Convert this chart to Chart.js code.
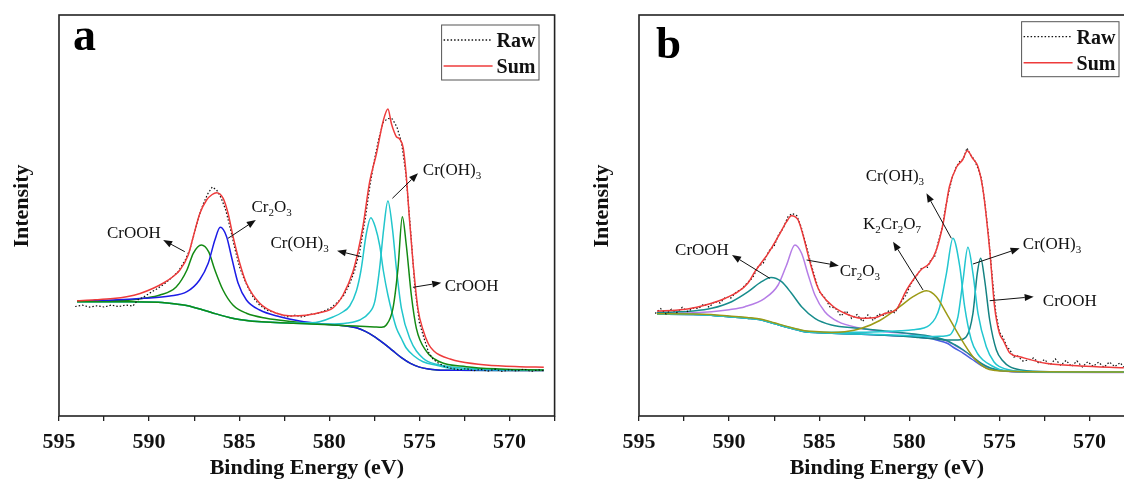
<!DOCTYPE html>
<html>
<head>
<meta charset="utf-8">
<script src="https://cdn.jsdelivr.net/npm/chart.js@4.4.1/dist/chart.umd.min.js"></script>
<style>
  html, body { margin: 0; padding: 0; background: #fff; }
  body { width: 1124px; height: 479px; overflow: hidden; position: relative; }
  canvas { position: absolute; top: 0; }
  #graficoA { left: 0; }
  #graficoB { left: 580px; }
</style>
</head>
<body>
<canvas id="graficoA" width="580" height="479"></canvas>
<canvas id="graficoB" width="580" height="479"></canvas>
<script>
// ---- panel a: Cr 2p, fitted components (binding energy in eV, intensity in a.u.) ----
const eVerdeA1 = [594, 592, 591, 590.3, 589.4, 588.5, 587.9, 587.55, 587.1, 586.7, 586.35, 585.9, 585.35, 584.6, 583.5, 582, 581, 580, 579, 578.5, 578, 577.5, 577, 576.5, 576, 575.5, 575, 574.5, 574, 573, 568.1];
const iVerdeA1 = [114.8, 115.3, 116, 117.7, 121, 129, 146, 162.7, 171, 164.3, 146, 126, 111, 102.7, 97.7, 94.3, 92.5, 91.4, 89.8, 88.2, 84.6, 79.4, 72.8, 65.6, 58.3, 52.6, 48.9, 46.9, 46.1, 45.7, 45.5];

const eAzulA = [594, 592, 590.3, 588.85, 587.9, 587.2, 586.72, 586.35, 586.05, 585.7, 585.43, 585.06, 584.6, 583.86, 582.75, 581.64, 580.5, 579.5, 579, 578.5, 578, 577.5, 577, 576.5, 576, 575.5, 575, 574.5, 574, 573, 568.1];
const iAzulA = [115, 116, 117.7, 120, 124.3, 136, 152.7, 176, 188.7, 179.3, 159.3, 132.7, 116, 106, 99.3, 95, 92.3, 90.8, 89.8, 88.2, 84.6, 79.4, 72.8, 65.6, 58.3, 52.6, 48.9, 46.9, 46.1, 45.7, 45.5];

const eCianoA1 = [594, 591, 589.5, 589, 588.5, 588, 587.5, 587, 586.5, 586, 585.5, 585, 584.5, 584, 583, 582, 581, 580.5, 579.8, 579.3, 578.87, 578.5, 578.25, 577.94, 577.7, 577.45, 577.2, 577, 576.75, 576.5, 576.28, 576, 575.73, 575.3, 574.8, 574, 573.33, 572, 570, 568.1];
const iCianoA1 = [114.3, 114.3, 113.7, 113, 112, 110.7, 108.6, 106, 103.3, 100.6, 98.3, 96.6, 95.4, 94.6, 93.6, 93, 93.2, 94.5, 99, 103.5, 110, 125, 145, 183, 198.3, 189, 170, 145, 121, 102, 88, 77.5, 68, 60, 54.3, 50.5, 47.7, 46.5, 46, 45.8];

const eCianoA2 = [594, 591, 589.5, 589, 588.5, 588, 587.5, 587, 586.5, 586, 585.5, 585, 584.5, 584, 583, 582, 581, 580, 579, 578.31, 577.8, 577.48, 577.21, 576.98, 576.75, 576.5, 576.28, 576, 575.54, 574.8, 574, 573.33, 571.5, 568.1];
const iCianoA2 = [114.3, 114.3, 113.7, 113, 112, 110.7, 108.6, 106, 103.3, 100.6, 98.3, 96.5, 95.3, 94.5, 93.4, 92.7, 92.2, 92, 93, 96, 103, 114.3, 147.7, 187.7, 215, 187.7, 147.7, 107.7, 77.7, 57.7, 51.5, 49.3, 47, 46];

const eVerdeA2 = [594, 591, 589.5, 589, 588.5, 588, 587.5, 587, 586.5, 586, 585.5, 585, 584.5, 584, 583, 582, 581, 580, 579, 578, 577.5, 577.1, 576.84, 576.47, 576.19, 575.95, 575.73, 575.45, 575.17, 574.6, 573.88, 572.4, 570.55, 568.1];
const iVerdeA2 = [114.3, 114.3, 113.7, 113, 112, 110.7, 108.6, 106, 103.3, 100.6, 98.3, 96.5, 95.3, 94.5, 93.4, 92.7, 92, 91.2, 90.3, 89.5, 89, 88.7, 91, 107.7, 147.7, 199.3, 171, 121, 87.7, 64.3, 54.3, 49.3, 47, 46];

const eSomaA = [594, 593, 592, 591.25, 590.5, 589.77, 589.2, 588.7, 588.29, 587.83,
  587.55, 587.18, 586.81, 586.5, 586.26, 585.89, 585.62, 585.34, 584.97, 584.6,
  583.86, 582.93, 582.1, 581.3, 580.5, 579.8, 579.24, 578.69, 578.4, 578.13,
  577.76, 577.39, 577.02, 576.75, 576.55, 576.4, 576.28, 576.1, 575.9, 575.73,
  575.55, 575.36, 575.08, 574.8, 574.5, 574.2, 573.88, 573.3, 572.77, 571.3,
  569.45, 568.1];
const iSomaA = [115.3, 116.2, 117.5, 119.3, 122.5, 127.7, 133, 139, 146, 161,
  179.3, 202.7, 216, 221.5, 223.3, 217.7, 202.7, 179.3, 152.7, 132.7,
  112.7, 102.7, 100, 100.8, 103.5, 108, 121, 144.3, 165, 190,
  234.3, 262, 294.3, 307, 292, 284, 279.3, 277, 268, 240,
  196, 154.3, 107, 86, 72, 65, 61, 57, 54.5, 51,
  49.3, 48.8];

const eBrutoA = [594.1, 593.7, 593.3, 592.9, 592.5, 592.1, 591.7, 591.3, 590.9, 590.6,
  590.3, 590, 589.6, 589.2, 588.8, 588.4, 588, 587.75, 587.5, 587.25,
  587, 586.75, 586.5, 586.25, 586, 585.75, 585.5, 585.25, 585, 584.75,
  584.5, 584.2, 583.9, 583.5, 583.1, 582.7, 582.3, 581.9, 581.5, 581.1,
  580.7, 580.3, 579.9, 579.5, 579.2, 578.9, 578.6, 578.3, 578, 577.75,
  577.5, 577.25, 577, 576.75, 576.5, 576.25, 576, 575.75, 575.5, 575.25,
  575, 574.75, 574.5, 574.25, 574, 573.6, 573.2, 572.8, 572.4, 572,
  571.6, 571.2, 570.8, 570.4, 570, 569.6, 569.2, 568.8, 568.4, 568.1];
const iBrutoA = [109.5, 110.8, 108.9, 110.2, 109.0, 110.9, 109.4, 111.0, 110.0, 116.5,
  119.0, 122.5, 126.8, 131.5, 137.5, 144, 156, 166, 182, 199,
  212, 222, 229, 226, 218, 206, 188, 168, 150, 138,
  128, 118, 111.5, 106, 103.8, 101.5, 99.2, 100.8, 98.9, 101.6,
  102.4, 104.9, 108.4, 114.5, 120.5, 131, 145, 166, 198, 230,
  256, 278, 294, 297.5, 297, 289, 274, 242, 188, 128,
  93, 78, 64, 57, 53.5, 49.5, 47.5, 46.2, 47.4, 45.2,
  46.6, 44.8, 46.9, 44.5, 46.3, 45.1, 46.8, 44.6, 46.2, 45.3];

// ---- panel b ----
const eFundoB = [594, 592, 591, 590, 589, 588.2, 587.5, 586.9, 586.3, 585.8, 585, 584.3, 583, 581.7, 580.5, 579.5, 578.9, 578.5, 577.9, 577.5, 577, 576.5, 576, 575.5, 575.2, 574.5, 573.9, 572, 568.1];
const iFundoB = [101.7, 101.5, 100.8, 99.3, 97.8, 96, 92.5, 89.3, 86.5, 84.3, 83.3, 82.7, 82, 81, 80, 78.8, 77.7, 76, 72.7, 68, 62.7, 56.5, 50.5, 47, 46, 44.8, 44.3, 43.8, 43.7];

const eTealB1 = [594, 593, 592, 590.97, 589.86, 588.94, 588.2, 587.67, 587.09, 586.54, 585.98, 585.24, 584.32, 582.84, 581.36, 580, 579, 578, 577.5, 577, 576.5, 576, 575.5, 575, 574.5, 573.5, 568.1];
const iTealB1 = [103.5, 104, 105, 107.7, 114.3, 124.3, 134.3, 138.5, 134.3, 122.7, 109.3, 97.7, 91, 87.7, 85, 82.5, 80.3, 76, 71.5, 66, 59.5, 52.5, 48, 45.8, 44.8, 44.2, 43.7];

const eVioletaB = [594, 592, 590.97, 590, 589.12, 588.02, 587.28, 586.81, 586.35, 585.98, 585.61, 585.24, 584.69, 583.95, 582.84, 581.36, 580, 579, 578, 577.5, 577, 576.5, 576, 575.5, 575, 574.5, 573.5, 568.1];
const iVioletaB = [102.7, 103.3, 104.3, 106.3, 109.3, 117.7, 131, 151, 171, 162.7, 141, 121, 104.3, 94.3, 88.3, 84.3, 82.2, 80, 75.5, 71, 65.5, 59, 52, 47.5, 45.4, 44.4, 43.8, 43.4];

const eOlivaB = [594, 592, 591, 590, 589, 588.2, 587.5, 586.9, 586.3, 585.8, 585, 584.32, 583.58, 582.65, 581.64, 580.53, 579.79, 579.05, 578.5, 577.94, 577.2, 576.47, 575.73, 575.2, 574.5, 573.5, 568.1];
const iOlivaB = [102.3, 102.1, 101.5, 100, 98.5, 96.8, 93.3, 90.1, 87.3, 85.2, 84.2, 83.6, 84.3, 87.7, 95.5, 109.3, 119.3, 125.3, 119.3, 102.7, 79.3, 59.3, 47.7, 45.6, 44.8, 44.3, 44];

const eCianoB1 = [594, 592, 591, 590, 589, 588.2, 587.5, 586.9, 586.3, 585.8, 585, 584.3, 583, 581.64, 580.5, 579.79, 579.2, 578.87, 578.55, 578.31, 577.94, 577.58, 577.2, 576.93, 576.56, 576.2, 575.91, 575.4, 574.99, 574.3, 573.5, 568.1];
const iCianoB1 = [101.9, 101.7, 101, 99.5, 98, 96.3, 92.8, 89.7, 87, 85, 84.2, 83.8, 83.8, 84.3, 85.2, 86.2, 88, 91, 98, 109.3, 142.7, 177.7, 149.3, 109.3, 76, 62, 56, 50, 46.5, 45, 44.3, 44];

const eCianoB2 = [594, 592, 591, 590, 589, 588.2, 587.5, 586.9, 586.3, 585.8, 585, 584.3, 583, 581.7, 580.5, 579.5, 578.87, 578.2, 577.76, 577.5, 577.3, 577.02, 576.75, 576.47, 576.19, 575.73, 575.3, 574.99, 574.3, 573.5, 568.1];
const iCianoB2 = [101.7, 101.5, 100.8, 99.3, 97.8, 96, 92.5, 89.3, 86.5, 84.3, 83.3, 82.7, 82, 81.5, 80.8, 80, 79.3, 79.8, 81, 88, 99.3, 136, 168.7, 142.7, 102.7, 69.3, 54, 49.3, 45.5, 44.5, 44];

const eTealB2 = [594, 592, 591, 590, 589, 588.2, 587.5, 586.9, 586.3, 585.8, 585, 584.3, 583, 581.7, 580.5, 579.5, 578.5, 577.94, 577.3, 576.84, 576.47, 576.23, 576.04, 575.82, 575.54, 575.17, 574.8, 574.43, 573.8, 572, 568.1];
const iTealB2 = [101.7, 101.5, 100.8, 99.3, 97.8, 96, 92.5, 89.3, 86.5, 84.3, 83.3, 82.7, 82, 81, 80, 78.6, 77, 76, 76, 79.3, 102.7, 142.7, 157.7, 136, 96, 66, 55, 49.3, 46, 44.3, 44];

const eSomaB = [594, 592.82, 591.8, 590.97, 590.2, 589.5, 588.95, 588.57, 588.2, 587.83,
  587.28, 586.81, 586.54, 586.17, 585.9, 585.52, 585.06, 584.32, 583.58, 582.65,
  581.8, 581.34, 580.75, 580.15, 579.79, 579.36, 578.87, 578.5, 578.13, 577.78,
  577.38, 577.05, 576.78, 576.5, 576.19, 575.91, 575.54, 575.27, 575.0, 574.8,
  574.41, 573.88, 572.43, 570.5, 568.1];
const iSomaB = [105, 106, 108.8, 112.7, 117.8, 124.3, 133, 144.3, 153.5, 162.7,
  179.3, 194.3, 200.3, 196, 181, 154.3, 127.7, 111, 102.7, 97.7,
  98.8, 102.7, 106, 126, 136, 146, 153, 166, 192, 229,
  249, 256, 265.3, 258, 249.3, 226, 166, 109.3, 82.7, 76,
  62.7, 59.3, 52.7, 50, 48.3];

const eBrutoB = [594.1, 593.8, 593.5, 593.2, 592.9, 592.6, 592.3, 592.0, 591.7, 591.4,
  591.1, 590.8, 590.5, 590.2, 589.9, 589.6, 589.3, 589.0, 588.7, 588.4,
  588.1, 587.8, 587.5, 587.25, 587.0, 586.75, 586.5, 586.25, 586.0, 585.75,
  585.5, 585.25, 585.0, 584.7, 584.4, 584.1, 583.8, 583.5, 583.2, 582.9,
  582.6, 582.3, 582.0, 581.7, 581.4, 581.1, 580.8, 580.5, 580.2, 579.9,
  579.6, 579.3, 579.0, 578.8, 578.6, 578.4, 578.2, 578.0, 577.8, 577.6,
  577.4, 577.2, 577.0, 576.8, 576.6, 576.4, 576.2, 576.0, 575.8, 575.6,
  575.4, 575.2, 575.0, 574.8, 574.6, 574.4, 574.2, 574.0, 573.7, 573.4,
  573.1, 572.8, 572.5, 572.2, 571.9, 571.6, 571.3, 571.0, 570.7, 570.4,
  570.1, 569.8, 569.5, 569.2, 568.9, 568.6, 568.3, 568.1];
const iBrutoB = [102.5, 107.5, 102.0, 106.8, 103.4, 108.6, 104.5, 108.0, 107.6, 112.0,
  108.8, 114.6, 113.0, 119.0, 118.0, 124.0, 127.0, 133.0, 138.0, 149.0,
  153, 165, 170, 181.5, 187.5, 199, 202.5, 200.5, 189, 172.5,
  155, 139.5, 124.5, 118.5, 109, 108, 100, 105, 97.5, 101.5,
  94.5, 101, 95.5, 102, 100.5, 106, 103, 113, 120.5, 132.5,
  140, 148.5, 148.5, 156.5, 159, 173.5, 186, 207.5, 225, 239.5,
  249, 254.5, 257, 268, 261, 256.5, 248, 237.5, 212, 179.5,
  139, 103.5, 84, 78.5, 70, 65.5, 59, 60, 55, 56,
  58, 52.5, 56.5, 51, 57, 50.8, 55.6, 49.5, 55, 49,
  54.2, 49.6, 53.8, 48.7, 54, 49.4, 53.3, 49];

// labels with arrows: text position and arrow tail/head, all in data units
const rotulosA = [
  { texto: 'CrOOH', e: 592.34, i: 178, de: [588.02, 164.3], para: [589.22, 176] },
  { texto: 'Cr_2O_3', e: 584.32, i: 204, de: [585.62, 177.7], para: [584.08, 196] },
  { texto: 'Cr(OH)_3', e: 583.27, i: 168, de: [578.22, 159.3], para: [579.57, 165.3] },
  { texto: 'Cr(OH)_3', e: 574.81, i: 241, de: [576.5, 217.7], para: [575.08, 242.7] },
  { texto: 'CrOOH', e: 573.6, i: 125, de: [575.36, 128.7], para: [573.79, 133.3] }
];
const rotulosB = [
  { texto: 'CrOOH', e: 593.0, i: 161, de: [587.74, 137.7], para: [589.84, 161] },
  { texto: 'Cr_2O_3', e: 583.86, i: 140, de: [585.7, 156], para: [583.91, 150.3] },
  { texto: 'K_2Cr_2O_7', e: 582.57, i: 187, de: [579.24, 126], para: [580.9, 174.3] },
  { texto: 'Cr(OH)_3', e: 582.42, i: 235, de: [577.67, 177.7], para: [579.05, 222.7] },
  { texto: 'Cr(OH)_3', e: 573.7, i: 167, de: [576.47, 152], para: [573.88, 167.7] },
  { texto: 'CrOOH', e: 572.59, i: 110, de: [575.54, 115.3], para: [573.1, 119.3] }
];

const fonte = '"Liberation Serif", "Times New Roman", serif';
const tracoBruto = [1.5, 2];

function serie(rotulo, es, is, cor, ordem, bruto) {
  return {
    label: rotulo,
    data: es.map((e, k) => ({ x: e, y: is[k] })),
    borderColor: cor,
    borderWidth: bruto ? 1.2 : 1.5,
    borderDash: bruto ? tracoBruto : [],
    pointRadius: 0,
    fill: false,
    tension: 0,
    cubicInterpolationMode: bruto ? 'default' : 'monotone',
    order: ordem
  };
}

// text where '_' puts the next character as a subscript
function desenharTexto(ctx, texto, x, y) {
  let cx = x;
  for (let k = 0; k < texto.length; k++) {
    let ch = texto[k];
    let sub = false;
    if (ch === '_') { sub = true; ch = texto[++k]; }
    ctx.font = (sub ? '11px ' : '17px ') + fonte;
    ctx.fillText(ch, cx, sub ? y + 4 : y);
    cx += ctx.measureText(ch).width;
  }
}

function desenharSeta(ctx, x1, y1, x2, y2) {
  const ang = Math.atan2(y2 - y1, x2 - x1);
  const tam = 9, larg = 3.5;
  const bx = x2 - tam * Math.cos(ang), by = y2 - tam * Math.sin(ang);
  ctx.beginPath();
  ctx.moveTo(x1, y1);
  ctx.lineTo(bx, by);
  ctx.stroke();
  ctx.beginPath();
  ctx.moveTo(x2, y2);
  ctx.lineTo(bx + larg * Math.sin(ang), by - larg * Math.cos(ang));
  ctx.lineTo(bx - larg * Math.sin(ang), by + larg * Math.cos(ang));
  ctx.closePath();
  ctx.fill();
}

function moldura(painel) {
  return {
    id: 'moldura',
    afterDraw(chart) {
      const ctx = chart.ctx;
      const a = chart.chartArea;
      const sx = chart.scales.x, sy = chart.scales.y;
      ctx.save();

      // frame
      ctx.strokeStyle = '#222';
      ctx.lineWidth = 1.6;
      ctx.strokeRect(a.left, a.top, a.right - a.left, a.bottom - a.top);

      // panel letter
      ctx.fillStyle = '#000';
      ctx.textBaseline = 'alphabetic';
      ctx.textAlign = 'left';
      ctx.font = 'bold ' + painel.letraTam + 'px ' + fonte;
      ctx.fillText(painel.letra, a.left + painel.letraX, painel.letraY);

      // legend box
      const bruto = chart.data.datasets.find(d => d.label === 'Raw');
      const soma = chart.data.datasets.find(d => d.label === 'Sum');
      const lx = a.right - 113, ly = a.top + painel.legY;
      ctx.strokeStyle = '#555';
      ctx.lineWidth = 1;
      ctx.strokeRect(lx, ly, 97.4, 55);
      ctx.lineWidth = 1.3;
      ctx.strokeStyle = bruto.borderColor;
      ctx.setLineDash(tracoBruto);
      ctx.beginPath(); ctx.moveTo(lx + 2, ly + 15); ctx.lineTo(lx + 51, ly + 15); ctx.stroke();
      ctx.setLineDash([]);
      ctx.lineWidth = 1.6;
      ctx.strokeStyle = soma.borderColor;
      ctx.beginPath(); ctx.moveTo(lx + 2, ly + 41); ctx.lineTo(lx + 51, ly + 41); ctx.stroke();
      ctx.fillStyle = '#111';
      ctx.font = 'bold 20px ' + fonte;
      ctx.fillText('Raw', lx + 55, ly + 22);
      ctx.fillText('Sum', lx + 55, ly + 48);

      // axis titles
      ctx.font = 'bold 22px ' + fonte;
      ctx.textAlign = 'center';
      ctx.fillText('Binding Energy (eV)', (a.left + a.right) / 2, 474);
      ctx.save();
      ctx.translate(a.left - 31, 206);
      ctx.rotate(-Math.PI / 2);
      ctx.fillText('Intensity', 0, 0);
      ctx.restore();

      // peak labels with arrows
      ctx.textAlign = 'left';
      ctx.fillStyle = '#111';
      ctx.strokeStyle = '#111';
      ctx.lineWidth = 1;
      painel.rotulos.forEach(r => {
        desenharTexto(ctx, r.texto, sx.getPixelForValue(r.e), sy.getPixelForValue(r.i));
        desenharSeta(ctx,
          sx.getPixelForValue(r.de[0]), sy.getPixelForValue(r.de[1]),
          sx.getPixelForValue(r.para[0]), sy.getPixelForValue(r.para[1]));
      });
      ctx.restore();
    }
  };
}

function criarGrafico(id, series, painel) {
  const ctx = document.getElementById(id).getContext('2d');
  return new Chart(ctx, {
    type: 'line',
    data: { datasets: series },
    options: {
      responsive: false,
      animation: false,
      devicePixelRatio: 1,
      layout: { padding: { top: 15, right: 25.4, left: 0, bottom: 0 } },
      plugins: { legend: { display: false }, tooltip: { enabled: false } },
      scales: {
        x: {
          type: 'linear',
          reverse: true,
          min: 567.5,
          max: 595,
          border: { display: false },
          grid: { drawOnChartArea: false, drawTicks: true, tickLength: 5, color: '#222', lineWidth: 1.3 },
          ticks: {
            stepSize: 2.5,
            autoSkip: false,
            maxRotation: 0,
            padding: 8,
            color: '#111',
            font: { family: fonte, size: 22, weight: 'bold' },
            callback: v => (v % 5 === 0 ? String(v) : '')
          },
          afterFit: s => { s.height = 63; }
        },
        y: {
          min: 0,
          max: 401,
          border: { display: false },
          grid: { display: false, drawTicks: false },
          ticks: { display: false },
          afterFit: s => { s.width = 59; }
        }
      }
    },
    plugins: [moldura(painel)]
  });
}

criarGrafico('graficoA', [
  serie('Sum', eSomaA, iSomaA, '#ee3b3b', 0),
  serie('Raw', eBrutoA, iBrutoA, '#111', 1, true),
  serie('CrOOH 576.0', eVerdeA2, iVerdeA2, '#138a13', 2),
  serie('Cr(OH)3 577.7', eCianoA1, iCianoA1, '#22c6cc', 3),
  serie('Cr(OH)3 576.8', eCianoA2, iCianoA2, '#22c6cc', 3),
  serie('Cr2O3', eAzulA, iAzulA, '#1c1ce6', 4),
  serie('CrOOH 587.1', eVerdeA1, iVerdeA1, '#138a13', 4)
], { letra: 'a', letraTam: 46, letraX: 14, letraY: 50, legY: 10, rotulos: rotulosA });

criarGrafico('graficoB', [
  serie('Sum', eSomaB, iSomaB, '#ee3b3b', 0),
  serie('Raw', eBrutoB, iBrutoB, '#111', 1, true),
  serie('K2Cr2O7', eOlivaB, iOlivaB, '#9c9a16', 2),
  serie('Cr(OH)3 577.6', eCianoB1, iCianoB1, '#22c6d0', 3),
  serie('Cr(OH)3 576.8', eCianoB2, iCianoB2, '#22c6d0', 3),
  serie('CrOOH 576.0', eTealB2, iTealB2, '#148282', 3),
  serie('CrOOH 587.7', eTealB1, iTealB1, '#178c8c', 4),
  serie('Cr2O3', eVioletaB, iVioletaB, '#b57de6', 4),
  serie('Background', eFundoB, iFundoB, '#4a5fe0', 5)
], { letra: 'b', letraTam: 45, letraX: 17, letraY: 58, legY: 6.7, rotulos: rotulosB });
</script>
</body>
</html>
